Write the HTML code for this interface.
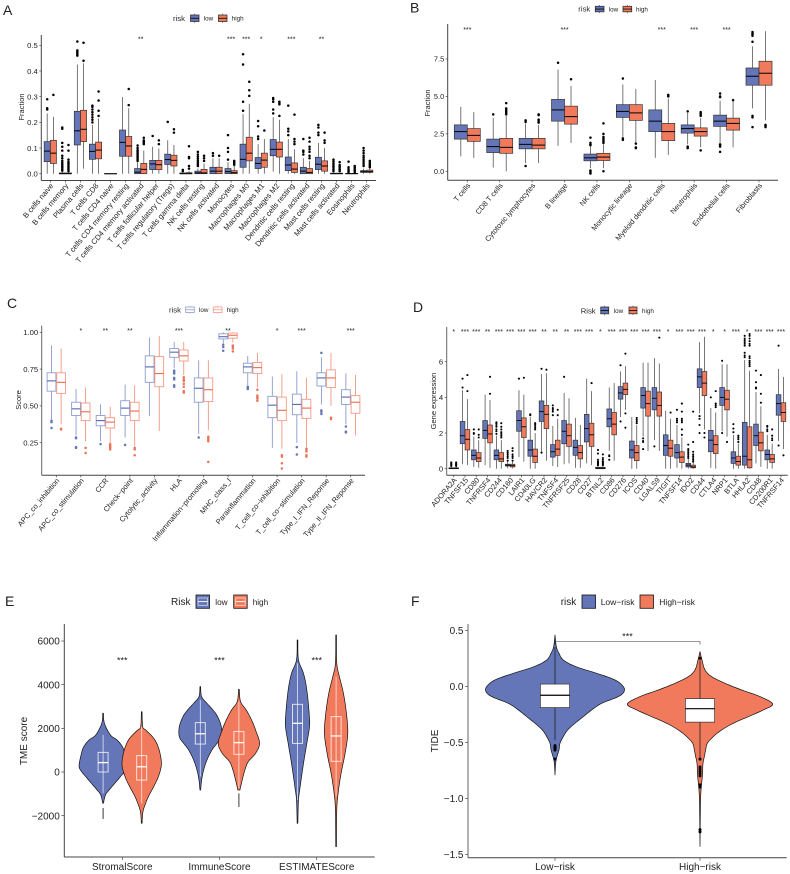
<!DOCTYPE html>
<html lang="en">
<head>
<meta charset="utf-8">
<title>Immune landscape by risk group</title>
<style>
html,body{margin:0;padding:0;background:#fff;width:790px;height:874px;overflow:hidden}
svg{display:block;filter:blur(0.3px)}
text{font-family:"Liberation Sans",Arial,sans-serif;fill:#222}
</style>
</head>
<body>
<svg id="figure" xmlns="http://www.w3.org/2000/svg" width="790" height="874" viewBox="0 0 790 874">
<rect width="790" height="874" fill="#fff"/>

<g id="panel-a">
<text x="3" y="15" font-size="14">A</text>
<text transform="translate(24 107) rotate(-90)" text-anchor="middle" font-size="7.5">Fraction</text>
<text x="173" y="21" font-size="7.7">risk</text>
<text x="203.7" y="20.6" font-size="6.3">low</text>
<text x="231.7" y="20.6" font-size="6.3">high</text>
</g>

<g id="panel-b">
<text x="410" y="12.5" font-size="14">B</text>
<text transform="translate(430 103) rotate(-90)" text-anchor="middle" font-size="7.5">Fraction</text>
<text x="578.3" y="11.7" font-size="7.7">risk</text>
<text x="608.7" y="11.3" font-size="6.3">low</text>
<text x="636" y="11.3" font-size="6.3">high</text>
</g>

<g id="panel-c">
<text x="7" y="308" font-size="14">C</text>
<text transform="translate(21 400) rotate(-90)" text-anchor="middle" font-size="7.5">Score</text>
<text x="169" y="312.4" font-size="7.7">risk</text>
<text x="199" y="312" font-size="6.3">low</text>
<text x="226.7" y="312" font-size="6.3">high</text>
</g>

<g id="panel-d">
<text x="413" y="312" font-size="14">D</text>
<text transform="translate(436 401) rotate(-90)" text-anchor="middle" font-size="7.5">Gene expression</text>
<text x="580.7" y="313.4" font-size="7.7">Risk</text>
<text x="613.7" y="313" font-size="6.3">low</text>
<text x="642" y="313" font-size="6.3">high</text>
</g>

<g id="panel-e">
<text x="5" y="606" font-size="14">E</text>
<text transform="translate(27 741) rotate(-90)" text-anchor="middle" font-size="10">TME score</text>
<text x="171" y="605" font-size="10">Risk</text>
<text x="215.3" y="605" font-size="8.2">low</text>
<text x="252.7" y="605" font-size="8.2">high</text>
</g>

<g id="panel-f">
<text x="411" y="606" font-size="14">F</text>
<text transform="translate(438 741) rotate(-90)" text-anchor="middle" font-size="10">TIDE</text>
<text x="560.7" y="605" font-size="10">risk</text>
<text x="600.7" y="605" font-size="8.5">Low−risk</text>
<text x="659.3" y="605" font-size="8.5">High−risk</text>
</g>
</svg>

<script>
/* ---------- Panel A data: [q1, median, q3, whiskerLow, whiskerHigh] ---------- */
const aCategories = ["B cells naive","B cells memory","Plasma cells","T cells CD8","T cells CD4 naive","T cells CD4 memory resting","T cells CD4 memory activated","T cells follicular helper","T cells regulatory (Tregs)","T cells gamma delta","NK cells resting","NK cells activated","Monocytes","Macrophages M0","Macrophages M1","Macrophages M2","Dendritic cells resting","Dendritic cells activated","Mast cells resting","Mast cells activated","Eosinophils","Neutrophils"];
const aLow = [[.047,.088,.125,0,.235],[0,0,.003,0,.01],[.112,.167,.243,0,.425],[.056,.087,.115,0,.19],[0,0,0,0,0],[.068,.122,.17,0,.298],[0,.006,.02,0,.045],[.016,.038,.052,0,.105],[.036,.055,.076,0,.13],[0,0,.003,0,.005],[0,.003,.01,0,.02],[0,.01,.025,0,.06],[0,.008,.02,0,.045],[.025,.056,.115,0,.232],[.02,.04,.063,0,.115],[.07,.095,.133,.008,.22],[.012,.034,.065,0,.135],[0,.01,.025,0,.06],[.016,.037,.064,0,.12],[0,0,.002,0,.005],[0,0,.001,0,.003],[.005,.008,.012,0,.02]];
const aHigh = [[.04,.08,.13,0,.222],[0,0,.003,0,.008],[.125,.173,.247,.02,.43],[.058,.092,.123,0,.215],[0,0,0,0,0],[.068,.108,.145,0,.255],[0,.017,.04,0,.09],[.016,.035,.052,0,.098],[.03,.052,.072,0,.112],[0,0,.004,0,.01],[0,.003,.017,0,.04],[0,.01,.025,0,.06],[0,.004,.012,0,.03],[.05,.08,.142,0,.272],[.025,.053,.08,0,.135],[.065,.095,.123,0,.21],[.005,.018,.042,0,.095],[0,.005,.02,0,.05],[.01,.03,.05,0,.1],[0,0,.002,0,.005],[0,0,.001,0,.003],[.005,.008,.014,0,.02]];
const aLowOut = [[.25,.255,.29],[.012,.018,.024,.03,.036,.042,.05,.06,.07,.09,.105,.12,.175,.18],[.46,.465,.47,.475,.48,.515],[.2,.21,.22,.23,.24,.25,.26,.265],[],[],[.05,.056,.062,.068,.074,.08,.086,.092,.1,.11],[.147],[.202],[.01,.015],[.03,.036,.042,.05,.058,.066,.075,.085],[.07,.08],[.055,.085,.1,.15],[.245,.28,.425,.465],[.135,.145,.185,.205],[.235,.25,.28,.29,.295],[.15,.165,.175,.265],[.075,.085,.09,.135],[.15,.16,.18,.19],[.01,.016,.022,.028,.034,.04,.048,.055],[.006,.012,.018,.025,.047],[.03,.038,.046,.054,.062,.07,.08,.09,.1]];
const aHighOut = [[.307],[.01,.016,.022,.028,.034,.04,.046,.055,.09,.112],[.44,.51],[.225,.245,.285,.32],[],[.267,.33],[.115,.12,.125,.13,.14],[.115,.13],[.16,.173],[.02,.03,.06,.065,.107],[.05,.06,.07],[.07],[.035,.04,.045,.05],[.303,.325,.358],[.168],[.225,.27,.275,.28],[.115,.125,.135,.23],[.06,.07,.085,.095,.105,.125,.14],[.12,.13,.16],[.01,.016,.022,.028,.034,.045],[.006,.012,.018,.024,.03],[.025,.03,.036,.042,.05]];
const aStars = ["","","","","","","**","","","","","","***","***","*","","***","","**","","",""];
const aTicks = [0,.1,.2,.3,.4,.5];
const aTickLabels = ["0.0","0.1","0.2","0.3","0.4","0.5"];

/* ---------- Panel B data ---------- */
const bCategories = ["T cells","CD8 T cells","Cytotoxic lymphocytes","B lineage","NK cells","Monocytic lineage","Myeloid dendritic cells","Neutrophils","Endothelial cells","Fibroblasts"];
const bLow = [[2.15,2.65,3.1,1,4.3],[1.25,1.65,2.15,.25,3.55],[1.5,1.8,2.2,.55,3.2],[3.35,4.1,4.8,1.7,6.8],[.7,.9,1.15,.2,1.7],[3.6,4,4.45,2.3,5.8],[2.65,3.35,4.1,.9,6.1],[2.55,2.85,3.1,1.8,3.9],[3,3.35,3.75,1.9,4.7],[5.75,6.35,6.9,4.2,8.35]];
const bHigh = [[2,2.4,2.85,.9,3.95],[1.2,1.6,2.2,0,3.7],[1.5,1.75,2.2,.55,3.1],[3.15,3.65,4.35,1.9,5.7],[.72,.95,1.2,.2,1.8],[3.4,3.9,4.45,1.9,5.5],[2.05,2.65,3.2,1.1,4.85],[2.35,2.65,2.9,1.6,3.55],[2.75,3.2,3.55,1.6,4.7],[5.75,6.55,7.35,3.4,9.35]];
const bLowOut = [[],[3.8],[.35,3.3,3.4],[7.25],[-.15,-.1,0,.05,1.75,1.8,1.9,2.25],[2.1,2.2,6.2],[],[1.55,1.65,4],[1.3,1.65,1.75,1.8,4.95,5,5.2],[2.95,3.6,3.7,8.65,9.05,9.15,9.2,9.3]];
const bHighOut = [[],[3.8,3.9,4,4.1,4.2,4.55],[3.25,3.35,3.45,3.75,3.8],[6.15],[0,1.9,2,2.1,2.2,2.3,2.5,3.2],[1.55,1.6,1.85],[5,5.05,5.1],[1.4,3.7,3.8,3.9,3.95],[4.75],[2.95,3.05,3.1]];
const bStars = ["***","","","***","","","***","***","***",""];
const bTicks = [0,2.5,5,7.5];
const bTickLabels = ["0.0","2.5","5.0","7.5"];

/* ---------- Panel C data ---------- */
const cCategories = ["APC_co_inhibition","APC_co_stimulation","CCR","Check−point","Cytolytic_activity","HLA","Inflammation−promoting","MHC_class_I","Parainflammation","T_cell_co−inhibition","T_cell_co−stimulation","Type_I_IFN_Reponse","Type_II_IFN_Reponse"];
const cLow = [[.6,.67,.725,.41,.91],[.435,.48,.525,.3,.615],[.365,.4,.435,.26,.51],[.435,.485,.535,.285,.645],[.66,.765,.84,.43,.965],[.83,.865,.89,.755,.935],[.525,.62,.69,.31,.81],[.955,.97,.99,.925,1],[.725,.765,.79,.64,.84],[.42,.505,.565,.215,.7],[.44,.51,.58,.25,.735],[.635,.69,.725,.51,.83],[.51,.56,.61,.375,.72]];
const cHigh = [[.585,.66,.725,.375,.89],[.4,.46,.52,.26,.625],[.35,.39,.42,.25,.495],[.4,.465,.525,.225,.64],[.63,.72,.835,.33,.975],[.805,.84,.88,.71,.935],[.53,.61,.69,.335,.81],[.96,.98,.995,.93,1],[.72,.76,.795,.625,.86],[.4,.47,.56,.21,.715],[.415,.485,.545,.22,.69],[.625,.69,.745,.5,.86],[.45,.525,.57,.3,.71]];
const cLowOut = [[.4,.39,.35],[.285,.28,.22,.215],[.24],[.235],[],[.74,.73,.72,.69,.68,.64,.63],[.285],[.915,.9,.875],[.63,.62,.615],[],[.22,.17],[.47,.46,.445,.86],[.36,.325,.32]];
const cHighOut = [[.345,.34],[.215,.18],[.205,.215,.22,.23,.24],[.215,.205,.165],[],[.695,.68,.67,.65,.63,.6,.59],[.29,.28,.27,.26,.12],[.91,.9,.89,.87],[.61,.57,.56,.55,.535],[.165,.155,.11,.075],[.21,.2,.19,.165,.155],[.42,.41],[]];
const cStars = ["","*","**","**","","***","","**","","*","***","","***"];
const cTicks = [.25,.5,.75,1];
const cTickLabels = ["0.25","0.50","0.75","1.00"];

/* ---------- Panel D data ---------- */
const dCategories = ["ADORA2A","TNFSF15","CD80","TNFRSF4","CD244","CD160","LAIR1","CD40LG","HAVCR2","TNFSF4","TNFRSF25","CD28","CD27","BTNL2","CD86","CD276","ICOS","CD40","LGALS9","TIGIT","TNFSF14","IDO2","CD44","CTLA4","NRP1","BTLA","HHLA2","CD48","CD200R1","TNFRSF14"];
const dLow = [[0,.02,.05,0,.1],[1.4,1.85,2.65,.25,4.4],[.5,.75,1.05,.1,1.8],[1.7,2.15,2.7,.2,4.15],[.5,.75,1.05,0,1.85],[.15,.2,.25,.02,.4],[2.1,2.7,3.25,.65,4.4],[.7,1.05,1.6,0,2.9],[2.65,3.2,3.8,.9,5.3],[.65,.95,1.35,.15,2.4],[1.4,2.1,2.7,.25,4.25],[.75,1.2,1.6,.05,2.85],[1.5,2.25,3.05,.3,5.05],[0,.03,.08,0,.15],[2.35,2.8,3.35,1,4.55],[3.9,4.25,4.6,2.9,5.45],[.6,1.05,1.55,0,2.9],[3.4,4.1,4.55,1.8,5.95],[3.3,3.95,4.55,1.6,6.2],[.75,1.3,1.9,0,3.25],[.6,.9,1.35,.05,2.45],[.1,.2,.3,0,.55],[4.55,5.15,5.6,3.1,7.1],[.95,1.6,2.15,.05,3.4],[3.55,4,4.55,2.1,5.85],[.3,.6,.95,0,1.9],[.2,.7,2.6,0,6.1],[1.3,1.85,2.5,.3,4.3],[.5,.8,1.05,0,1.9],[3,3.65,4.15,1.55,5.6]];
const dHigh = [[0,.02,.05,0,.1],[1.05,1.65,2.2,.2,3.9],[.4,.6,.9,.05,1.6],[1.45,1.95,2.45,.05,3.85],[.4,.55,.9,0,1.6],[.1,.17,.25,.02,.4],[1.75,2.35,2.85,.4,4.15],[.35,.7,1.1,0,2],[2.25,3.05,3.55,.45,5.35],[.75,1.1,1.6,.1,2.8],[1.25,1.85,2.5,.3,3.95],[.55,.9,1.3,.05,2.45],[1.25,1.9,2.55,.2,4.35],[0,.03,.08,0,.15],[1.9,2.5,3.15,.45,4.8],[4.15,4.45,4.8,3.3,5.75],[.45,.9,1.3,0,2.45],[2.95,3.65,4.35,1,5.95],[2.95,3.55,4.3,1,5.9],[.7,1.15,1.6,0,2.8],[.35,.65,.95,0,1.75],[.05,.1,.2,0,.35],[4.1,4.8,5.45,2.2,7.4],[.85,1.35,1.85,0,3.15],[3.3,3.9,4.4,1.8,5.85],[.2,.4,.7,0,1.4],[.05,.5,2.35,0,5.5],[1,1.45,2.05,.1,3.5],[.35,.55,.8,0,1.4],[2.65,3.15,3.7,1.1,5.15]];
const dLowOut = [[.15,.2,.25,.3,.35],[4.55,5.05],[1.95,2,2.2],[],[1.95,2.1,2.2,2.35,2.45,2.55,2.6],[.45,.6,.7,.8,.9,1],[5.05],[3,3.05],[5.6,.9],[3,3.2,3.3,3.4,3.55],[5.15],[],[],[.2,.25,.3,.35,.4,.5,.85,1.05],[.5,.7,.75],[2.65,5.8],[],[1.1,1.5,1.55,1.7],[1.25],[],[2.6,2.7,2.8,3.3],[.6,.7,.8,.9,1,1.1,1.35],[2.95,2.8,2.45,2],[4],[2,6.05],[2.05,2.25,2.5],[6.25,6.35,6.5,6.9,7,7.1,7.2,7.3,7.45],[4.5,4.55,4.85,5.5],[2.1,2.2,2.35,2.4],[1.3,6.9]];
const dHighOut = [[.15,.2,.25,.3,.35],[4.35,5.25],[1.75,1.9,2.2],[4.2,5.15],[1.75,1.85,1.95,2.05,2.2,2.35,2.55],[.45,.6,.7,.8,1,1.15],[5.1],[2.2,2.3,2.4,2.5,2.55],[5.55],[3,3.3],[],[],[4.8],[.2,.25,.3,.35,.4,.5,.6,.8],[],[2.3,3.1,6.45],[2.55,2.65,2.75,2.85],[],[7.35],[3.15],[1.9,2.2,2.6,2.7,2.8,3.2,3.65],[.4,.5,.6,.7,.8,.95,1.5,3.2],[2,1.75],[3.45,3.55,3.65,4.35],[1.5],[1.5,1.65,1.75,1.85],[5.75,5.85,5.95,6.05,6.2,6.3,6.9,7,7.15,7.3,7.45,7.55],[3.7,4.2,5.25],[1.6,1.7,1.85,2.2],[.75]];
const dStars = ["*","***","***","**","***","***","***","***","**","**","**","***","***","*","***","***","***","***","***","*","***","***","***","*","*","***","*","***","***","***"];
const dTicks = [0,2,4,6];
const dTickLabels = ["0","2","4","6"];

/* ---------- Panel E data: violin outlines as [score, density] ---------- */
const eCategories = ["StromalScore","ImmuneScore","ESTIMATEScore"];
const eLowDensity = [
 [[2690,1],[2230,4],[1695,22],[1466,42],[1160,58],[855,65],[320,72],[92,68],[-214,52],[-519,35],[-825,18],[-1054,7],[-1435,1]],
 [[3910,1],[3450,4],[3145,20],[2840,38],[2535,52],[2077,63],[1620,63],[1313,50],[1008,35],[550,20],[92,10],[-366,4],[-825,1]],
 [[6045,1],[5130,3],[4520,18],[3756,28],[2687,35],[2077,36],[1313,28],[397,18],[-672,8],[-1283,3],[-2350,1]]
];
const eHighDensity = [
 [[2760,1],[2075,3],[1925,12],[1620,32],[1315,45],[855,55],[320,59],[-214,50],[-672,36],[-1130,20],[-1588,8],[-1894,3],[-2350,1]],
 [[3787,1],[3222,5],[2840,22],[2382,38],[1924,50],[1313,62],[855,50],[473,28],[92,18],[-366,10],[-825,3]],
 [[6275,1],[4980,2],[4367,10],[3604,22],[2687,31],[1771,35],[855,27],[-61,15],[-977,6],[-1741,2],[-3420,1]]
];
const eLowBox = [[0,430,900,-980,1700],[1280,1750,2260,-210,3300],[1310,2230,3100,-1280,4980]];
const eHighBox = [[-370,240,750,-1430,2080],[810,1345,1850,-750,3220],[490,1650,2535,-1130,4370]];
const eLowTail = [[-1650,-2150],[],[]];
const eHighTail = [[],[-980,-1600],[]];
const eStars = ["***","***","***"];
const eTicks = [-2000,0,2000,4000,6000];
const eTickLabels = ["−2000","0","2000","4000","6000"];

/* ---------- Panel F data ---------- */
const fCategories = ["Low−risk","High−risk"];
const fLowDensity = [[.458,0],[.354,4],[.295,12],[.235,25],[.176,62],[.116,125],[.057,180],[-.003,205],[-.048,207],[-.092,190],[-.152,140],[-.211,110],[-.271,85],[-.33,60],[-.39,38],[-.449,25],[-.509,15],[-.568,12],[-.628,6],[-.687,2],[-.792,0]];
const fHighDensity = [[.31,0],[.235,6],[.146,15],[.086,35],[.027,75],[-.033,125],[-.092,180],[-.158,218],[-.211,190],[-.271,145],[-.33,100],[-.39,65],[-.449,40],[-.509,22],[-.568,17],[-.628,13],[-.687,9],[-.747,8],[-.806,7],[-.896,4],[-.985,2],[-1.134,1],[-1.431,0]];
const fLowBox = [-.19,-.08,.02,-.48,.35];
const fHighBox = [-.32,-.2,-.11,-.65,.23];
const fLowOut = [-.53,-.54,-.55,-.56,-.57,-.65];
const fHighOut = [.25,-.65,-.72,-.74,-.76,-.78,-.8,-.88,-.9,-1.28,-1.3];
const fBracket = [.4];
const fStars = ["***"];
const fTicks = [-1.5,-1,-.5,0,.5];
const fTickLabels = ["−1.5","−1.0","−0.5","0.0","0.5"];

/* ---------- Drawing helpers ---------- */
const NS = 'http://www.w3.org/2000/svg';
const LOW = '#6476b8', HIGH = '#f27a5c';

function make(parent, tag, attrs, text) {
  const el = document.createElementNS(NS, tag);
  for (const k in attrs) el.setAttribute(k, attrs[k]);
  if (text !== undefined) el.textContent = text;
  parent.appendChild(el);
  return el;
}
function linear(d0, d1, r0, r1) {
  return function (v) { return r0 + (v - d0) * (r1 - r0) / (d1 - d0); };
}
function bandAxis(first, last, n) {
  return function (i) { return n > 1 ? first + i * (last - first) / (n - 1) : first; };
}
function drawAxes(g, c) {
  const xLine = make(g, 'line', {x1: c.left, x2: c.right, y1: c.bottom, y2: c.bottom, stroke: '#444', 'stroke-width': c.axisW});
  
  
  const yLine = make(g, 'line', {x1: c.left, x2: c.left, y1: c.top, y2: c.bottom, stroke: c.yAxisColor || '#444', 'stroke-width': c.axisW});
  
  
  c.ticks.forEach(function (t, i) {
    const y = c.y(t);
    const tick = make(g, 'line', {x1: c.left - c.tickLen, x2: c.left, y1: y, y2: y, stroke: '#444', 'stroke-width': .7});
    
    
    const lab = make(g, 'text', {x: c.left - c.tickLen - 1.5, y: y + c.tickFont * .36, 'text-anchor': 'end', 'font-size': c.tickFont}, c.tickLabels[i]);
    
    
  });
  c.categories.forEach(function (name, i) {
    const x = c.x(i);
    const tick = make(g, 'line', {x1: x, x2: x, y1: c.bottom, y2: c.bottom + c.tickLen, stroke: '#444', 'stroke-width': .7});
    
    
    let lab;
    if (c.angle) {
      const lx = x + c.labelDx, ly = c.bottom + c.labelDy;
      lab = make(g, 'text', {x: lx, y: ly, 'text-anchor': 'end', 'font-size': c.catFont, transform: 'rotate(' + (-c.angle) + ' ' + lx + ' ' + ly + ')'}, name);
    } else {
      lab = make(g, 'text', {x: x, y: c.bottom + c.labelDy, 'text-anchor': 'middle', 'font-size': c.catFont}, name);
    }
    
    
  });
}
function drawStars(g, stars, xf, yPos, font) {
  stars.forEach(function (s, i) {
    if (!s) return;
    const t = make(g, 'text', {x: xf(i), y: yPos + font * .58, 'text-anchor': 'middle', 'font-size': font}, s);
    
    
  });
}
function drawBox(g, cx, w, stats, out, y, st) {
  const wl = make(g, 'line', {x1: cx, x2: cx, y1: y(stats[3]), y2: y(stats[4]), stroke: st.whisker, 'stroke-width': st.whiskerW});
  
  
  const rect = make(g, 'rect', {x: cx - w / 2, width: w, y: y(stats[2]), height: Math.max(.2, y(stats[0]) - y(stats[2])), fill: st.fill, stroke: st.edge, 'stroke-width': st.edgeW});
  
  
  const med = make(g, 'line', {x1: cx - w / 2, x2: cx + w / 2, y1: y(stats[1]), y2: y(stats[1]), stroke: st.median, 'stroke-width': st.medianW});
  
  
  out.forEach(function (v) {
    const p = make(g, 'circle', {cx: cx, cy: y(v), r: st.r, fill: st.dot});
    
    
  });
}
function drawBoxPanel(c) {
  const g = document.getElementById(c.id);
  drawAxes(g, c);
  c.categories.forEach(function (name, i) {
    const x = c.x(i);
    drawBox(g, x - c.offset, c.boxW, c.low[i], c.lowOut[i], c.y, c.lowStyle);
    drawBox(g, x + c.offset, c.boxW, c.high[i], c.highOut[i], c.y, c.highStyle);
  });
  drawStars(g, c.stars, c.x, c.starY, c.starFont);
}
function boxKey(g, x, y, w, h, fill, edge, med) {
  const wl = make(g, 'line', {x1: x + w / 2, x2: x + w / 2, y1: y - 1.3, y2: y + h + 1.3, stroke: edge, 'stroke-width': .6});
  
  
  const r = make(g, 'rect', {x: x, y: y, width: w, height: h, fill: fill, stroke: edge, 'stroke-width': .8});
  
  
  const m = make(g, 'line', {x1: x, x2: x + w, y1: y + h / 2, y2: y + h / 2, stroke: med, 'stroke-width': .8});
  
  
}
function smoothOutline(profile, cx, y, dens, sign) {
  const pts = profile.map(function (p) { return [cx + sign * dens(p[1]), y(p[0])]; });
  const out = [];
  for (let i = 0; i < pts.length - 1; i++) {
    const a = pts[Math.max(0, i - 1)], b = pts[i], c = pts[i + 1], d = pts[Math.min(pts.length - 1, i + 2)];
    for (let k = 0; k < 6; k++) {
      const t = k / 6, t2 = t * t, t3 = t2 * t;
      out.push([
        .5 * (2 * b[0] + (c[0] - a[0]) * t + (2 * a[0] - 5 * b[0] + 4 * c[0] - d[0]) * t2 + (3 * b[0] - a[0] - 3 * c[0] + d[0]) * t3),
        .5 * (2 * b[1] + (c[1] - a[1]) * t + (2 * a[1] - 5 * b[1] + 4 * c[1] - d[1]) * t2 + (3 * b[1] - a[1] - 3 * c[1] + d[1]) * t3)
      ]);
    }
  }
  out.push(pts[pts.length - 1]);
  return out;
}
function drawViolin(g, profile, cx, y, dens, fill) {
  const r = smoothOutline(profile, cx, y, dens, 1);
  const l = smoothOutline(profile, cx, y, dens, -1).reverse();
  const all = r.concat(l);
  const d = all.map(function (p, i) { return (i ? 'L' : 'M') + p[0].toFixed(2) + ' ' + p[1].toFixed(2); }).join('') + 'Z';
  const path = make(g, 'path', {d: d, fill: fill, stroke: '#111', 'stroke-width': .7, 'stroke-linejoin': 'round'});
  
  
}

/* ---------- Panels A-D ---------- */
const solidLow = {whisker: '#555', whiskerW: .8, fill: LOW, edge: '#333', edgeW: .7, median: '#000', medianW: 1, r: 1.25, dot: '#000'};
const solidHigh = {whisker: '#555', whiskerW: .8, fill: HIGH, edge: '#333', edgeW: .7, median: '#000', medianW: 1, r: 1.25, dot: '#000'};

drawBoxPanel({id: 'panel-a', categories: aCategories, low: aLow, high: aHigh, lowOut: aLowOut, highOut: aHighOut, stars: aStars,
  ticks: aTicks, tickLabels: aTickLabels, left: 41.3, right: 376, top: 35, bottom: 180.5, axisW: 1, tickLen: 2, tickFont: 7.7, catFont: 7.6,
  angle: 50, labelDx: 3.5, labelDy: 5.5, x: bandAxis(50.3, 366.7, aCategories.length), y: linear(0, .5, 173.7, 45.3), offset: 3.1, boxW: 6.1,
  lowStyle: solidLow, highStyle: solidHigh, starY: 37.3, starFont: 7});

drawBoxPanel({id: 'panel-b', categories: bCategories, low: bLow, high: bHigh, lowOut: bLowOut, highOut: bHighOut, stars: bStars,
  ticks: bTicks, tickLabels: bTickLabels, left: 447.7, right: 778, top: 24, bottom: 180.3, axisW: 1, tickLen: 2, tickFont: 7.4, catFont: 7.4,
  angle: 50, labelDx: 3.5, labelDy: 5.5, x: bandAxis(467.3, 759, bCategories.length), y: linear(0, 7.5, 171.3, 59), offset: 6.5, boxW: 13,
  lowStyle: solidLow, highStyle: solidHigh, starY: 28, starFont: 7});

const lineLow = {whisker: '#7d8ec6', whiskerW: .8, fill: '#fff', edge: '#8e9dce', edgeW: .9, median: '#5468b2', medianW: 1.1, r: 1.25, dot: '#6476b8'};
const lineHigh = {whisker: '#ef8a72', whiskerW: .8, fill: '#fff', edge: '#f39a84', edgeW: .9, median: '#f0694a', medianW: 1.1, r: 1.25, dot: '#ea7458'};

drawBoxPanel({id: 'panel-c', categories: cCategories, low: cLow, high: cHigh, lowOut: cLowOut, highOut: cHighOut, stars: cStars,
  ticks: cTicks, tickLabels: cTickLabels, left: 41.7, right: 365, top: 325.7, bottom: 475.3, axisW: 1, yAxisColor: '#666', tickLen: 2, tickFont: 7.7, catFont: 7.4,
  angle: 50, labelDx: 3.5, labelDy: 5.5, x: bandAxis(56.3, 350.7, cCategories.length), y: linear(.25, 1, 442.7, 332.3), offset: 4.8, boxW: 8.8,
  lowStyle: lineLow, highStyle: lineHigh, starY: 328.7, starFont: 7});

const smallLow = Object.assign({}, solidLow, {r: 1.05, whiskerW: .8, medianW: .9});
const smallHigh = Object.assign({}, solidHigh, {r: 1.05, whiskerW: .8, medianW: .9});

drawBoxPanel({id: 'panel-d', categories: dCategories, low: dLow, high: dHigh, lowOut: dLowOut, highOut: dHighOut, stars: dStars,
  ticks: dTicks, tickLabels: dTickLabels, left: 446.7, right: 787.7, top: 327, bottom: 475.3, axisW: 1, yAxisColor: '#666', tickLen: 2, tickFont: 7.7, catFont: 7.4,
  angle: 50, labelDx: 3.5, labelDy: 5, x: bandAxis(453.7, 781, dCategories.length), y: linear(0, 6, 468.7, 361.7), offset: 2.45, boxW: 4.7,
  lowStyle: smallLow, highStyle: smallHigh, starY: 330, starFont: 7});

/* legend keys for panels A-D */
const legA = document.getElementById('panel-a');
boxKey(legA, 190.5, 15, 8.5, 6.5, LOW, '#333', '#000');
boxKey(legA, 218.5, 15, 8.5, 6.5, HIGH, '#333', '#000');
const legB = document.getElementById('panel-b');
boxKey(legB, 595.3, 6.3, 8.7, 5.5, LOW, '#333', '#000');
boxKey(legB, 623, 6.3, 8.7, 5.5, HIGH, '#333', '#000');
const legC = document.getElementById('panel-c');
boxKey(legC, 185.7, 307, 8.6, 5.5, '#fff', '#8e9dce', '#8e9dce');
boxKey(legC, 213.3, 307, 8.7, 5.5, '#fff', '#f39a84', '#f39a84');
const legD = document.getElementById('panel-d');
boxKey(legD, 600.7, 307, 8, 6.8, LOW, '#333', '#000');
boxKey(legD, 629, 307, 8, 6.8, HIGH, '#333', '#000');

/* ---------- Panel E ---------- */
(function () {
  const g = document.getElementById('panel-e');
  const y = linear(0, 6000, 772, 641);
  const x = bandAxis(122.3, 316.7, eCategories.length);
  const dens = function (d) { return d / 3; };
  drawAxes(g, {left: 64.3, right: 374.7, top: 624, bottom: 857, axisW: 1, tickLen: 3, tickFont: 10, catFont: 10, ticks: eTicks, tickLabels: eTickLabels,
    categories: eCategories, x: x, y: y, labelDy: 13});
  function one(cx, prof, box, tail, fill) {
    drawViolin(g, prof, cx, y, dens, fill);
    if (tail.length) {
      const t = make(g, 'line', {x1: cx, x2: cx, y1: y(tail[0]), y2: y(tail[1]), stroke: '#222', 'stroke-width': .9});
      
      
    }
    const wl = make(g, 'line', {x1: cx, x2: cx, y1: y(box[3]), y2: y(box[4]), stroke: '#fff', 'stroke-width': .8, opacity: .8});
    
    
    const r = make(g, 'rect', {x: cx - 5, width: 10, y: y(box[2]), height: y(box[0]) - y(box[2]), fill: 'none', stroke: '#fff', 'stroke-width': .9, opacity: .85});
    
    
    const m = make(g, 'line', {x1: cx - 5, x2: cx + 5, y1: y(box[1]), y2: y(box[1]), stroke: '#fff', 'stroke-width': 1.3});
    
    
  }
  eCategories.forEach(function (name, i) {
    one(x(i) - 19.2, eLowDensity[i], eLowBox[i], eLowTail[i], LOW);
  });
  eCategories.forEach(function (name, i) {
    one(x(i) + 19.4, eHighDensity[i], eHighBox[i], eHighTail[i], HIGH);
  });
  drawStars(g, eStars, x, 658.3, 9);
  [[196, LOW], [233.7, HIGH]].forEach(function (k) {
    const r = make(g, 'rect', {x: k[0], y: 595, width: 13.5, height: 13.3, fill: k[1], stroke: '#111', 'stroke-width': .8});
    
    
    const b = make(g, 'rect', {x: k[0] + 2, y: 598, width: 9.5, height: 7.3, fill: 'none', stroke: '#fff', 'stroke-width': .7, opacity: .8});
    
    
    const m = make(g, 'line', {x1: k[0] + 2, x2: k[0] + 11.5, y1: 601.6, y2: 601.6, stroke: '#fff', 'stroke-width': .9});
    
    
  });
})();

/* ---------- Panel F ---------- */
(function () {
  const g = document.getElementById('panel-f');
  const y = linear(0, .5, 686.3, 630.3);
  const x = bandAxis(555, 700, fCategories.length);
  const dens = function (d) { return d / 3; };
  drawAxes(g, {left: 468, right: 786.7, top: 624, bottom: 857.7, axisW: 1, yAxisColor: '#666', tickLen: 3, tickFont: 10, catFont: 10, ticks: fTicks, tickLabels: fTickLabels,
    categories: fCategories, x: x, y: y, labelDy: 12.5});
  function one(cx, prof, box, out, fill) {
    drawViolin(g, prof, cx, y, dens, fill);
    const wl = make(g, 'line', {x1: cx, x2: cx, y1: y(box[3]), y2: y(box[4]), stroke: '#222', 'stroke-width': 1.1, opacity: .75});
    
    
    out.forEach(function (v) {
      const p = make(g, 'circle', {cx: cx, cy: y(v), r: 1.5, fill: '#000'});
      
      
    });
    const r = make(g, 'rect', {x: cx - 14.6, width: 29.2, y: y(box[2]), height: y(box[0]) - y(box[2]), fill: '#fff', stroke: '#333', 'stroke-width': .7});
    
    
    const m = make(g, 'line', {x1: cx - 14.6, x2: cx + 14.6, y1: y(box[1]), y2: y(box[1]), stroke: '#000', 'stroke-width': 1.2});
    
    
  }
  one(x(0), fLowDensity, fLowBox, fLowOut, LOW);
  one(x(1), fHighDensity, fHighBox, fHighOut, HIGH);
  const by = y(fBracket[0]);
  const br = make(g, 'path', {d: 'M' + x(0) + ' ' + (by + 3) + 'V' + by + 'H' + x(1) + 'V' + (by + 3), fill: 'none', stroke: '#333', 'stroke-width': .6});
  
  
  const s = make(g, 'text', {x: (x(0) + x(1)) / 2, y: 634.5 + 5, 'text-anchor': 'middle', 'font-size': 9}, fStars[0]);
  
  
  [[582, LOW], [640, HIGH]].forEach(function (k) {
    const r = make(g, 'rect', {x: k[0], y: 595, width: 13.5, height: 13.3, fill: k[1], stroke: '#111', 'stroke-width': .8});
    
    
  });
})();
</script>
</body>
</html>
